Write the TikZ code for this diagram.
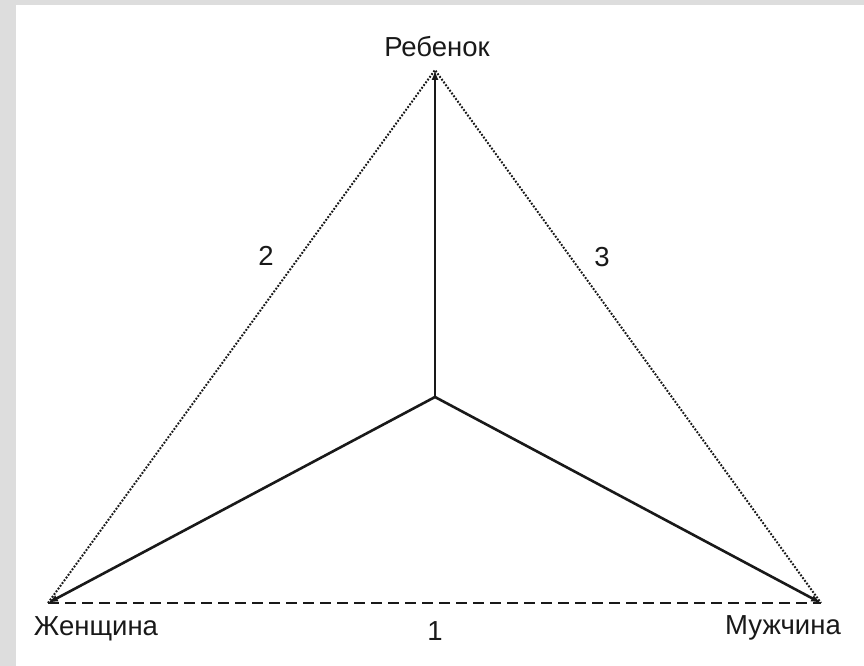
\documentclass[tikz,border=0pt]{standalone}
\usepackage{fontspec}
\setmainfont{Liberation Sans}
\usetikzlibrary{arrows.meta}
\definecolor{framegray}{RGB}{221,221,221}
\definecolor{inkcol}{RGB}{25,25,25}
\tikzset{
  lbl/.style={font=\fontsize{27.5}{32}\selectfont, text=inkcol, inner sep=0pt},
  solidarrow/.style={draw=inkcol, line width=2.6pt, -{Latex[length=10pt,width=7pt]}},
  dashline/.style={draw=inkcol, line width=2.5pt, dash pattern=on 11pt off 6pt},
  dotline/.style={draw=inkcol, line width=2pt, dash pattern=on 1.8pt off 1.6pt}
}
\begin{document}
\begin{tikzpicture}[x=1pt,y=-1pt]
\useasboundingbox (0,0) rectangle (864,666);
\fill[framegray] (0,0) rectangle (864,666);
\fill[white] (16,5) rectangle (864,666);
\coordinate (C) at (435,397);
\coordinate (T) at (435,70);
\coordinate (W) at (48,603);
\coordinate (M) at (821,603);
\draw[dotline] (W) -- (T) -- (M);
\draw[dashline] (W) -- (M);
\draw[solidarrow] (C) -- (T);
\draw[solidarrow] (C) -- (W);
\draw[solidarrow] (C) -- (M);
\node[lbl] (lt) at (437,47) {Ребенок};
\node[lbl] (lw) at (96,629) {Женщина};
\node[lbl] (lm) at (783,628) {Мужчина};
\node[lbl] (n1) at (435,631) {1};
\node[lbl] (n2) at (266,256) {2};
\node[lbl] (n3) at (602,257) {3};
\end{tikzpicture}
\end{document}
